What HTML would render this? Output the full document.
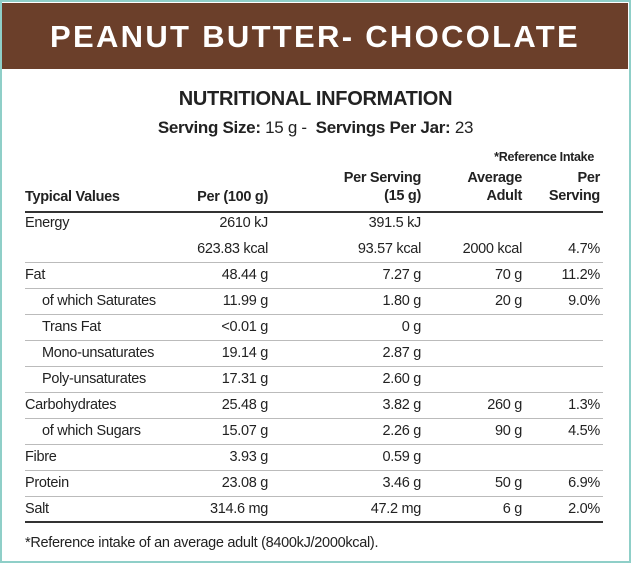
<!DOCTYPE html>
<html><head><meta charset="utf-8"><style>
html,body{margin:0;padding:0;}
body{width:631px;height:563px;position:relative;overflow:hidden;background:#fff;font-family:"Liberation Sans",sans-serif;color:#222;}
.frame{position:absolute;left:0;top:0;width:627px;height:559px;border:2px solid #8fcfc8;}
.band{position:absolute;left:2px;top:3px;width:626px;height:66px;background:#6b3f2a;}
.band div{position:absolute;left:0;right:0;top:16px;text-align:center;color:#fff;font-weight:bold;font-size:31px;letter-spacing:2.3px;}
.t{position:absolute;white-space:nowrap;font-size:14.5px;line-height:16px;letter-spacing:-0.3px;}
.r{text-align:right;}
.b{font-weight:bold;}
.ln{position:absolute;left:25px;width:578px;height:1px;background:#bbb;}
.th{position:absolute;left:25px;width:578px;height:2px;background:#333;}
</style></head><body>
<div class="frame"></div>
<div class="band"><div>PEANUT BUTTER- CHOCOLATE</div></div>
<div class="t b" style="left:0;width:631px;text-align:center;top:89px;font-size:20px;line-height:20px;">NUTRITIONAL INFORMATION</div>
<div class="t" style="left:0;width:631px;text-align:center;top:119px;font-size:17px;line-height:18px;"><b>Serving Size:</b> 15 g -&nbsp; <b>Servings Per Jar:</b> 23</div>
<div class="t b" style="right:37px;top:149px;font-size:12.5px;">*Reference Intake</div>
<div class="t b" style="left:25px;top:189px;">Typical Values</div>
<div class="t b r" style="right:363px;top:189px;">Per (100 g)</div>
<div class="t b r" style="right:210px;top:170px;">Per Serving<br><span style="display:block;margin-top:2px">(15 g)</span></div>
<div class="t b r" style="right:109px;top:170px;">Average<br><span style="display:block;margin-top:2px">Adult</span></div>
<div class="t b r" style="right:31px;top:170px;">Per<br><span style="display:block;margin-top:2px">Serving</span></div>
<div class="th" style="top:211px"></div>
<div class="ln" style="top:262px"></div><div class="ln" style="top:288px"></div><div class="ln" style="top:314px"></div><div class="ln" style="top:340px"></div><div class="ln" style="top:366px"></div><div class="ln" style="top:392px"></div><div class="ln" style="top:418px"></div><div class="ln" style="top:444px"></div><div class="ln" style="top:470px"></div><div class="ln" style="top:496px"></div>
<div class="th" style="top:521px"></div>

<div class="t" style="left:25px;top:215px">Energy</div><div class="t r" style="right:363px;top:215px">2610 kJ</div><div class="t r" style="right:210px;top:215px">391.5 kJ</div>
<div class="t r" style="right:363px;top:241px">623.83 kcal</div><div class="t r" style="right:210px;top:241px">93.57 kcal</div><div class="t r" style="right:109px;top:241px">2000 kcal</div><div class="t r" style="right:31px;top:241px">4.7%</div>
<div class="t" style="left:25px;top:267px">Fat</div><div class="t r" style="right:363px;top:267px">48.44 g</div><div class="t r" style="right:210px;top:267px">7.27 g</div><div class="t r" style="right:109px;top:267px">70 g</div><div class="t r" style="right:31px;top:267px">11.2%</div>
<div class="t" style="left:42px;top:293px">of which Saturates</div><div class="t r" style="right:363px;top:293px">11.99 g</div><div class="t r" style="right:210px;top:293px">1.80 g</div><div class="t r" style="right:109px;top:293px">20 g</div><div class="t r" style="right:31px;top:293px">9.0%</div>
<div class="t" style="left:42px;top:319px">Trans Fat</div><div class="t r" style="right:363px;top:319px">&lt;0.01 g</div><div class="t r" style="right:210px;top:319px">0 g</div>
<div class="t" style="left:42px;top:345px">Mono-unsaturates</div><div class="t r" style="right:363px;top:345px">19.14 g</div><div class="t r" style="right:210px;top:345px">2.87 g</div>
<div class="t" style="left:42px;top:371px">Poly-unsaturates</div><div class="t r" style="right:363px;top:371px">17.31 g</div><div class="t r" style="right:210px;top:371px">2.60 g</div>
<div class="t" style="left:25px;top:397px">Carbohydrates</div><div class="t r" style="right:363px;top:397px">25.48 g</div><div class="t r" style="right:210px;top:397px">3.82 g</div><div class="t r" style="right:109px;top:397px">260 g</div><div class="t r" style="right:31px;top:397px">1.3%</div>
<div class="t" style="left:42px;top:423px">of which Sugars</div><div class="t r" style="right:363px;top:423px">15.07 g</div><div class="t r" style="right:210px;top:423px">2.26 g</div><div class="t r" style="right:109px;top:423px">90 g</div><div class="t r" style="right:31px;top:423px">4.5%</div>
<div class="t" style="left:25px;top:449px">Fibre</div><div class="t r" style="right:363px;top:449px">3.93 g</div><div class="t r" style="right:210px;top:449px">0.59 g</div>
<div class="t" style="left:25px;top:475px">Protein</div><div class="t r" style="right:363px;top:475px">23.08 g</div><div class="t r" style="right:210px;top:475px">3.46 g</div><div class="t r" style="right:109px;top:475px">50 g</div><div class="t r" style="right:31px;top:475px">6.9%</div>
<div class="t" style="left:25px;top:501px">Salt</div><div class="t r" style="right:363px;top:501px">314.6 mg</div><div class="t r" style="right:210px;top:501px">47.2 mg</div><div class="t r" style="right:109px;top:501px">6 g</div><div class="t r" style="right:31px;top:501px">2.0%</div>
<div class="t" style="left:25px;top:535px">*Reference intake of an average adult (8400kJ/2000kcal).</div>
</body></html>
